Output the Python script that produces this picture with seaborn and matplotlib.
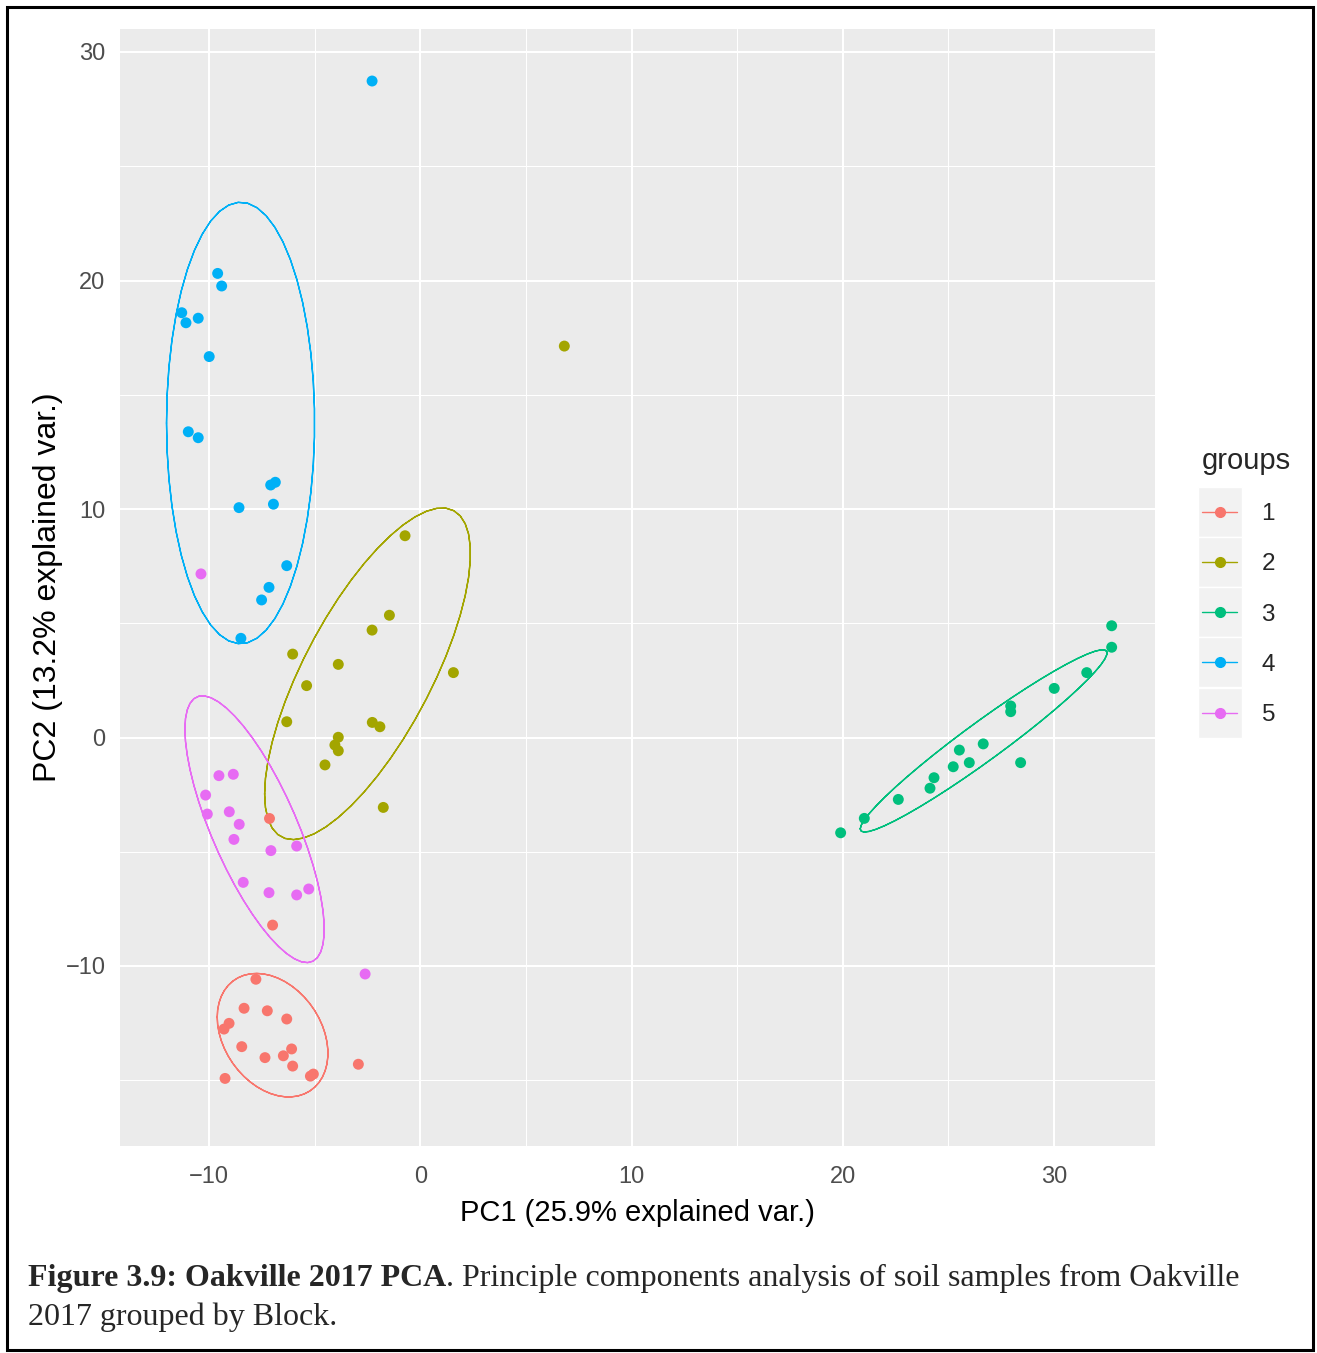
import numpy as np
import pandas as pd
import matplotlib
matplotlib.use("Agg")
import matplotlib.pyplot as plt
from matplotlib.lines import Line2D
from matplotlib.patches import Rectangle
import seaborn as sns

# ---------------- data ----------------
groups = ["1", "2", "3", "4", "5"]
colors = ["#F8766D", "#A3A500", "#00BF7D", "#00B0F6", "#E76BF3"]

g1_x = [-7.78, -8.34, -7.24, -6.32, -9.05, -9.29, -8.45, -7.35, -6.09, -6.48, -6.04, -5.06, -5.20, -9.24, -2.93, -6.99]
g1_y = [-10.58, -11.85, -11.96, -12.32, -12.51, -12.76, -13.53, -14.01, -13.63, -13.93, -14.38, -14.73, -14.82, -14.92, -14.30, -8.21]

g2_x = [-0.72, -1.46, -2.28, -6.04, -3.88, -5.38, 1.57, -6.32, -2.27, -1.91, -3.88, -4.04, -3.88, -4.51, -1.75, 6.82]
g2_y = [8.83, 5.35, 4.70, 3.65, 3.20, 2.27, 2.84, 0.69, 0.66, 0.47, 0.01, -0.33, -0.58, -1.20, -3.06, 17.13]

g3_x = [32.73, 32.73, 31.55, 30.01, 27.95, 27.95, 26.65, 25.52, 25.99, 25.23, 28.42, 24.32, 24.13, 22.63, 21.02, 19.90]
g3_y = [4.89, 3.95, 2.84, 2.15, 1.38, 1.13, -0.28, -0.55, -1.10, -1.28, -1.10, -1.76, -2.22, -2.71, -3.54, -4.17]

g4_x = [-9.59, -9.40, -11.29, -11.09, -10.51, -9.99, -10.98, -10.51, -7.08, -6.86, -6.95, -8.58, -6.32, -7.16, -7.51, -8.49, -2.28]
g4_y = [20.31, 19.76, 18.59, 18.15, 18.35, 16.67, 13.38, 13.12, 11.05, 11.17, 10.21, 10.06, 7.52, 6.57, 6.02, 4.34, 28.73]

g5_x = [-9.53, -8.85, -10.16, -10.08, -9.04, -8.57, -8.82, -7.07, -5.85, -8.38, -7.16, -5.85, -5.28, -10.38, -2.61]
g5_y = [-1.67, -1.61, -2.52, -3.35, -3.25, -3.80, -4.46, -4.95, -4.75, -6.34, -6.79, -6.89, -6.63, 7.16, -10.35]

# one group-1 coloured point lying inside the group-5 cloud (not part of an ellipse)
extra1_x = [-7.16]
extra1_y = [-3.51]

x_ticks = [-10, 0, 10, 20, 30]
y_ticks = [-10, 0, 10, 20, 30]
x_label = "PC1 (25.9% explained var.)"
y_label = "PC2 (13.2% explained var.)"
legend_title = "groups"
ellipse_prob = 0.68

gx = [g1_x, g2_x, g3_x, g4_x, g5_x]
gy = [g1_y, g2_y, g3_y, g4_y, g5_y]

rows = []
for g, xs, ys in zip(groups, gx, gy):
    for a, b in zip(xs, ys):
        rows.append((a, b, g))
df = pd.DataFrame(rows, columns=["PC1", "PC2", "groups"])
df_extra = pd.DataFrame({"PC1": extra1_x, "PC2": extra1_y, "groups": "1"})

# ---------------- figure ----------------
sns.set_theme(style="darkgrid")
plt.rcParams["font.family"] = ["Liberation Sans", "DejaVu Sans"]

W, H = 1317, 1353
fig = plt.figure(figsize=(W / 100, H / 100), dpi=100)
fig.patch.set_facecolor("white")

L, R, T, B = 120, 1155, 29, 1146
ax = fig.add_axes([L / W, 1 - B / H, (R - L) / W, (B - T) / H])
ax.set_facecolor("#EBEBEB")

pal = dict(zip(groups, colors))

# ellipses (as in ggbiplot: mean + chol(cov) * sqrt(qchisq(p, 2)))
ed = np.sqrt(-2 * np.log(1 - ellipse_prob))
theta = np.concatenate([np.linspace(-np.pi, np.pi, 50), np.linspace(np.pi, -np.pi, 50)])
circle = np.column_stack([np.cos(theta), np.sin(theta)])
for g in groups:
    sub = df[df["groups"] == g][["PC1", "PC2"]].to_numpy()
    mu = sub.mean(axis=0)
    sigma = np.cov(sub.T)
    Lc = np.linalg.cholesky(sigma)
    pts = circle @ Lc.T * ed + mu
    ax.plot(pts[:, 0], pts[:, 1], color=pal[g], lw=1.0, zorder=2)

sns.scatterplot(data=df, x="PC1", y="PC2", hue="groups", palette=pal,
                hue_order=groups, s=62, linewidth=0, ax=ax, legend=False, zorder=3)
sns.scatterplot(data=df_extra, x="PC1", y="PC2", hue="groups", palette=pal,
                s=62, linewidth=0, ax=ax, legend=False, zorder=3)

ax.set_xlim((L - 420.25) / 21.125, (R - 420.25) / 21.125)
ax.set_ylim((737.5 - B) / 22.85, (737.5 - T) / 22.85)

ax.set_xticks(x_ticks)
ax.set_yticks(y_ticks)
ax.set_xticks([-5, 5, 15, 25], minor=True)
ax.set_yticks([-15, -5, 5, 15, 25], minor=True)
ax.grid(which="major", color="white", lw=1.5)
ax.grid(which="minor", color="white", lw=0.75)
ax.set_axisbelow(True)
for s in ax.spines.values():
    s.set_visible(False)

ax.tick_params(axis="both", which="major", length=5, width=1, color="#333333",
               labelsize=17, labelcolor="#4D4D4D")
ax.tick_params(axis="x", which="major", pad=9.5)
ax.tick_params(axis="y", which="major", pad=5.5)
ax.tick_params(axis="both", which="minor", length=0)

ax.set_xlabel(x_label, fontsize=21, color="black")
ax.set_ylabel(y_label, fontsize=23, color="black")
ax.xaxis.set_label_coords(0.5, (B - 1199) / (B - T))
ax.yaxis.set_label_coords((63 - L) / (R - L), 0.5)

# legend
handles = [Line2D([0], [0], color=c, marker="o", markersize=7, lw=1.0) for c in colors]
leg = ax.legend(handles, groups, title=legend_title, loc="upper left",
                bbox_to_anchor=(1202 / W, 1 - 447 / H), bbox_transform=fig.transFigure,
                frameon=False, fontsize=17.5, title_fontsize=21, handlelength=1.45,
                handletextpad=1.0, labelspacing=1.16, borderpad=0, borderaxespad=0)
leg._legend_box.align = "left"
leg.set_zorder(6)

fig.canvas.draw()
rend = fig.canvas.get_renderer()
for h in leg.legend_handles:
    bb = h.get_window_extent(rend)
    cx = (bb.x0 + bb.x1) / 2
    cy = (bb.y0 + bb.y1) / 2
    ax.add_patch(Rectangle(((cx - 22) / W, (cy - 25) / H), 44 / W, 50 / H,
                           transform=fig.transFigure, facecolor="#F2F2F2",
                           edgecolor="white", lw=1, zorder=4, clip_on=False))

# caption
cap_font = ["Liberation Serif", "DejaVu Serif"]
t1 = fig.text(28 / W, 1 - 1286 / H, "Figure 3.9: Oakville 2017 PCA", fontsize=23,
              fontweight="bold", family=cap_font, ha="left", va="baseline")
fig.canvas.draw()
bb = t1.get_window_extent(rend)
fig.text(bb.x1 / W, 1 - 1286 / H,
         ". Principle components analysis of soil samples from Oakville",
         fontsize=23, family=cap_font, ha="left", va="baseline")
fig.text(28 / W, 1 - 1325 / H, "2017 grouped by Block.", fontsize=23,
         family=cap_font, ha="left", va="baseline")

# outer border
fig.patches.append(Rectangle((7 / W, 1 - 1350 / H), 1306 / W, 1343 / H,
                             transform=fig.transFigure, fill=False,
                             edgecolor="black", lw=2.2, zorder=10))

fig.savefig("out.png", dpi=100, facecolor="white")
